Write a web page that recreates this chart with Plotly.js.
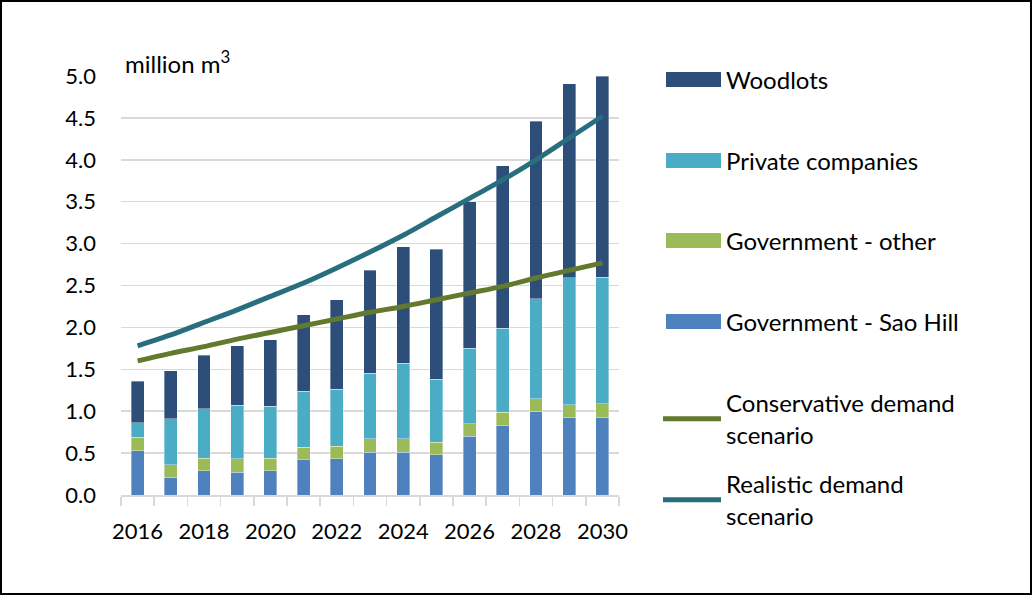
<!DOCTYPE html>
<html>
<head>
<meta charset="utf-8">
<script src="https://cdn.plot.ly/plotly-3.0.1.min.js"></script>
<style>
  html, body { margin: 0; padding: 0; background: #fff; }
  #wrap { position: relative; width: 1032px; height: 596px; }
  #chart { position: absolute; left: 0; top: 0; width: 1032px; height: 596px; }
  #frame { position: absolute; left: 0; top: 0; width: 1032px; height: 595px; box-sizing: border-box; border: 2px solid #000; pointer-events: none; }
</style>
</head>
<body>
<div id="wrap"><div id="chart"></div><div id="frame"></div></div>
<script>
const years = [2016, 2017, 2018, 2019, 2020, 2021, 2022, 2023, 2024, 2025, 2026, 2027, 2028, 2029, 2030];
const saoHill      = [0.53, 0.21, 0.29, 0.27, 0.29, 0.42, 0.43, 0.51, 0.51, 0.48, 0.70, 0.83, 1.00, 0.93, 0.93];
const govOther     = [0.16, 0.15, 0.15, 0.16, 0.15, 0.15, 0.15, 0.16, 0.16, 0.15, 0.15, 0.16, 0.15, 0.15, 0.16];
const privateCos   = [0.17, 0.55, 0.59, 0.64, 0.62, 0.67, 0.68, 0.78, 0.90, 0.75, 0.90, 1.00, 1.19, 1.51, 1.51];
const woodlots     = [0.50, 0.57, 0.64, 0.71, 0.79, 0.91, 1.07, 1.23, 1.39, 1.55, 1.75, 1.94, 2.12, 2.32, 2.40];
const conservative = [1.60, 1.69, 1.77, 1.86, 1.94, 2.02, 2.10, 2.18, 2.25, 2.33, 2.41, 2.49, 2.59, 2.68, 2.77];
const realistic    = [1.78, 1.91, 2.06, 2.21, 2.37, 2.53, 2.71, 2.90, 3.10, 3.32, 3.54, 3.76, 4.00, 4.26, 4.52];
const xTickLabels  = [2016, 2018, 2020, 2022, 2024, 2026, 2028, 2030];
const yTicks       = [0, 0.5, 1, 1.5, 2, 2.5, 3, 3.5, 4, 4.5, 5];

const FONT = 'Lato, "Open Sans", sans-serif';
const barLine = {color: 'rgba(255,255,255,0.6)', width: 0.6};
function bar(name, y, color, legend) {
  return {type: 'bar', name: name, x: years, y: y, width: 0.39,
          marker: {color: color, line: barLine}, legend: legend, hoverinfo: 'name+y'};
}
const traces = [
  bar('Government - Sao Hill', saoHill, '#4F81BD', 'legend4'),
  bar('Government - other', govOther, '#9BBB59', 'legend3'),
  bar('Private companies', privateCos, '#4BACC6', 'legend2'),
  bar('Woodlots', woodlots, '#2C4E78', 'legend'),
  {type: 'scatter', mode: 'lines', name: 'Conservative demand<br>scenario', x: years, y: conservative,
   line: {color: '#627A2E', width: 5, shape: 'spline', smoothing: 0.8}, legend: 'legend5'},
  {type: 'scatter', mode: 'lines', name: 'Realistic demand<br>scenario', x: years, y: realistic,
   line: {color: '#286E7E', width: 5, shape: 'spline', smoothing: 0.8}, legend: 'legend6'}
];

function leg(yPix) {
  return {x: 658 / 1032, xref: 'container', xanchor: 'left',
          y: 1 - yPix / 596, yref: 'container', yanchor: 'middle',
          font: {family: FONT, size: 24, color: '#000'}, bgcolor: 'rgba(0,0,0,0)',
          itemwidth: 58, itemclick: false, itemdoubleclick: false};
}

const layout = {
  width: 1032, height: 596,
  margin: {l: 121, r: 413, t: 76, b: 101},
  paper_bgcolor: '#fff', plot_bgcolor: '#fff',
  font: {family: FONT, size: 22, color: '#000'},
  barmode: 'stack',
  showlegend: true,
  legend: leg(80), legend2: leg(161), legend3: leg(241), legend4: leg(322),
  legend5: leg(419), legend6: leg(500),
  xaxis: {
    range: [2015.5, 2030.5], tickvals: xTickLabels, ticktext: xTickLabels.map(String),
    ticks: '', showgrid: false, zeroline: false,
    showline: true, linecolor: '#D9D9D9', linewidth: 1.5,
    ticklabelstandoff: 16,
    tickfont: {family: FONT, size: 22, color: '#000'},
    minor: {tick0: 2015.5, dtick: 1, ticks: 'outside', ticklen: 9, tickcolor: '#D9D9D9', tickwidth: 1.5, showgrid: false}
  },
  yaxis: {
    range: [0, 5], tickvals: yTicks, tickformat: '.1f',
    ticks: '', showgrid: true, gridcolor: '#D9D9D9', gridwidth: 1.5,
    zeroline: false, showline: false,
    ticklabelstandoff: 24,
    tickfont: {family: FONT, size: 22, color: '#000'}
  },
  annotations: [{
    text: 'million m<sup>3</sup>', xref: 'paper', yref: 'paper',
    x: 0.004, y: 1.034, xanchor: 'left', yanchor: 'middle', showarrow: false,
    font: {family: FONT, size: 24, color: '#000'}
  }]
};

// widen the bar legend swatches to the length of the line swatches
function widenSwatches() {
  try {
    const gd = document.getElementById('chart');
    const lineSym = gd.querySelector('.legendlines path');
    if (!lineSym) return;
    const lr = lineSym.getBoundingClientRect();
    if (!lr.width) return;
    gd.querySelectorAll('g.legendpoints').forEach(function (g) {
      g.querySelectorAll('path').forEach(function (p) {
        if (p.closest('.legendlines')) return;
        if (p.getAttribute('data-wide')) return;
        const bb = p.getBBox();
        if (!bb.width || bb.width > 30) return;
        const r = p.getBoundingClientRect();
        const off = r.left - bb.x;
        const cy = bb.y + bb.height / 2;
        const x0 = lr.left + 3 - off, x1 = lr.right - off;
        p.setAttribute('d', 'M' + x0 + ',' + (cy - 7.5) + 'H' + x1 + 'V' + (cy + 7.5) + 'H' + x0 + 'Z');
        p.setAttribute('data-wide', '1');
        p.style.strokeWidth = '0px';
      });
    });
  } catch (e) { console.log(e); }
}

const gdEl = document.getElementById('chart');
Plotly.newPlot(gdEl, traces, layout, {displayModeBar: false, staticPlot: true}).then(function () {
  widenSwatches();
  gdEl.on('plotly_afterplot', widenSwatches);
  setTimeout(widenSwatches, 50);
  setTimeout(widenSwatches, 300);
});
</script>
</body>
</html>
